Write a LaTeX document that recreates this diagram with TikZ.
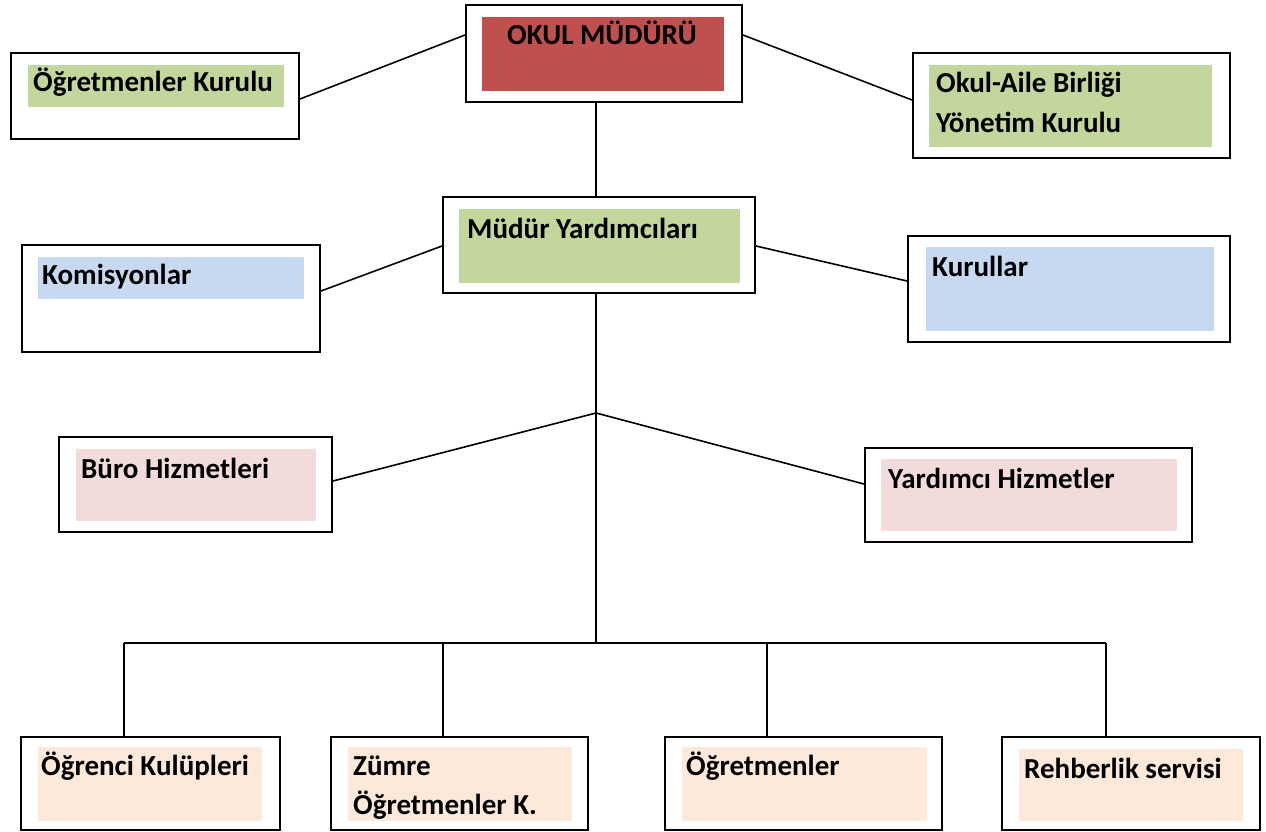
\documentclass[tikz,border=0pt]{standalone}
\usepackage{fontspec}
\setmainfont{Carlito}
\usetikzlibrary{calc}

\definecolor{mudurred}{HTML}{C0504D}
\definecolor{kurulgreen}{HTML}{C3D69B}
\definecolor{komisblue}{HTML}{C6D9F0}
\definecolor{hizmetpink}{HTML}{F2DCDB}
\definecolor{altpeach}{HTML}{FDE9D9}

\tikzset{
  outerbox/.style={draw, line width=2pt, fill=white, inner sep=0pt},
  fillbox/.style={inner sep=0pt, draw=none},
  boxtext/.style={inner sep=0pt, anchor=base west, font=\fontsize{29}{35}\selectfont\bfseries},
  link/.style={line width=1.6pt}
}

\begin{document}
\begin{tikzpicture}[x=1pt,y=-1pt]
   \useasboundingbox (0,0) rectangle (1266,832);

   % ust sira
   \node[outerbox, minimum width=276, minimum height=97] (mudur) at (604,53.5) {};
   \node[fillbox, fill=mudurred, minimum width=242, minimum height=74] (mudurin) at (603,54) {};
   \node[boxtext, anchor=base] (mudurtx) at (602,45) {OKUL MÜDÜRÜ};

   \node[outerbox, minimum width=288, minimum height=86] (kurul) at (155,96) {};
   \node[fillbox, fill=kurulgreen, minimum width=256, minimum height=42] (kurulin) at (156,86) {};
   \node[boxtext] (kurultx) at (33,92) {Öğretmenler Kurulu};

   \node[outerbox, minimum width=317, minimum height=105] (aile) at (1071.5,105.5) {};
   \node[fillbox, fill=kurulgreen, minimum width=283, minimum height=82] (ailein) at (1070.5,106) {};
   \node[boxtext] (ailetx) at (936,93) {Okul-Aile Birliği};
   \node[boxtext] (ailetxb) at (936,132) {Yönetim Kurulu};

   % ikinci sira
   \node[outerbox, minimum width=312, minimum height=96] (yard) at (599,245) {};
   \node[fillbox, fill=kurulgreen, minimum width=281, minimum height=74] (yardin) at (599.5,246) {};
   \node[boxtext] (yardtx) at (467,238) {Müdür Yardımcıları};

   \node[outerbox, minimum width=298, minimum height=107] (komis) at (171,298.5) {};
   \node[fillbox, fill=komisblue, minimum width=266, minimum height=42] (komisin) at (171,278) {};
   \node[boxtext] (komistx) at (42,284) {Komisyonlar};

   \node[outerbox, minimum width=322, minimum height=106] (kurullar) at (1069,289) {};
   \node[fillbox, fill=komisblue, minimum width=288, minimum height=84] (kurullarin) at (1070,289) {};
   \node[boxtext] (kurullartx) at (932,276) {Kurullar};

   % hizmetler
   \node[outerbox, minimum width=273, minimum height=95] (buro) at (195.5,484.5) {};
   \node[fillbox, fill=hizmetpink, minimum width=240, minimum height=72] (buroin) at (196,485) {};
   \node[boxtext] (burotx) at (81,478) {Büro Hizmetleri};

   \node[outerbox, minimum width=327, minimum height=94] (yhiz) at (1028.5,495) {};
   \node[fillbox, fill=hizmetpink, minimum width=296, minimum height=72] (yhizin) at (1029,495) {};
   \node[boxtext] (yhiztx) at (888,488) {Yardımcı Hizmetler};

   % alt sira
   \node[outerbox, minimum width=259, minimum height=93] (ogr) at (150.5,783.5) {};
   \node[fillbox, fill=altpeach, minimum width=224, minimum height=74] (ogrin) at (150,784) {};
   \node[boxtext] (ogrtx) at (41,775) {Öğrenci Kulüpleri};

   \node[outerbox, minimum width=257, minimum height=93] (zumre) at (459.5,783.5) {};
   \node[fillbox, fill=altpeach, minimum width=224, minimum height=74] (zumrein) at (460,784) {};
   \node[boxtext] (zumretx) at (353,775) {Zümre};
   \node[boxtext] (zumretxb) at (353,814) {Öğretmenler K.};

   \node[outerbox, minimum width=277, minimum height=93] (ogrt) at (803.5,783.5) {};
   \node[fillbox, fill=altpeach, minimum width=245, minimum height=74] (ogrtin) at (804.5,784) {};
   \node[boxtext] (ogrttx) at (686,775) {Öğretmenler};

   \node[outerbox, minimum width=258, minimum height=93] (rehb) at (1131,783.5) {};
   \node[fillbox, fill=altpeach, minimum width=224, minimum height=72] (rehbin) at (1131,785) {};
   \node[boxtext] (rehbtx) at (1024,778) {Rehberlik servisi};

   % baglantilar
   \coordinate (junc) at (596,413);
   \coordinate (bus) at (596,643);
   \coordinate (b1) at (124,643);
   \coordinate (b2) at (443,643);
   \coordinate (b3) at (767,643);
   \coordinate (b4) at (1106,643);

   \draw[link] ([yshift=-31pt]mudur.north west) -- ([yshift=-47pt]kurul.north east);
   \draw[link] ([yshift=-31pt]mudur.north east) -- ([yshift=-48pt]aile.north west);
   \draw[link] (mudur.south -| junc) -- (yard.north -| junc);
   \draw[link] ([yshift=-50pt]yard.north west) -- ([yshift=-47pt]komis.north east);
   \draw[link] ([yshift=-50pt]yard.north east) -- ([yshift=-46pt]kurullar.north west);
   \draw[link] (yard.south -| junc) -- (junc);
   \draw[link] (junc) -- ([yshift=-45pt]buro.north east);
   \draw[link] (junc) -- ([yshift=-37pt]yhiz.north west);
   \draw[link] (junc) -- (bus);
   \draw[link] (b1) -- (b4);
   \draw[link] (b1) -- (b1 |- ogr.north);
   \draw[link] (b2) -- (b2 |- zumre.north);
   \draw[link] (b3) -- (b3 |- ogrt.north);
   \draw[link] (b4) -- (b4 |- rehb.north);
\end{tikzpicture}
\end{document}
